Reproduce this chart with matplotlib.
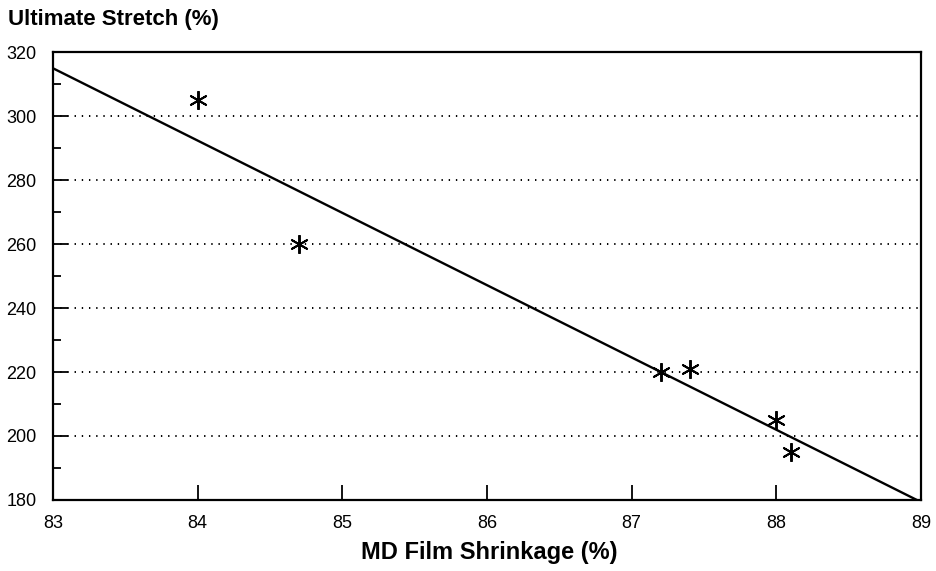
import numpy as np
import matplotlib
matplotlib.use("Agg")
import matplotlib.pyplot as plt
from matplotlib.ticker import MultipleLocator

# Data
shrinkage = [84.0, 84.7, 87.2, 87.4, 88.0, 88.1]
stretch = [305, 260, 220, 221, 205, 195]
x_ticks = [83, 84, 85, 86, 87, 88, 89]
y_ticks = [180, 200, 220, 240, 260, 280, 300, 320]
grid_levels = [200, 220, 240, 260, 280, 300]

plt.rcParams['font.family'] = ['Liberation Sans', 'DejaVu Sans']

fig = plt.figure(figsize=(9.36, 5.71), dpi=100)
ax = fig.add_axes([53/936, 1-500/571, (921-53)/936, (500-52)/571])

ax.set_xlim(83, 89)
ax.set_ylim(180, 320)

# regression line
slope, intercept = np.polyfit(shrinkage, stretch, 1)
xl = np.array([83, 89])
ax.plot(xl, slope*xl + intercept, color='black', lw=1.7, zorder=3)

ax.plot(shrinkage, stretch, linestyle='none', marker=(6, 2, 0), markersize=13.5,
        markeredgewidth=1.4, color='black', zorder=4)

for g in grid_levels:
    ax.axhline(g, color='black', lw=1.4, linestyle=(0, (0.7, 3.0)), zorder=1)

ax.set_xticks(x_ticks)
ax.set_yticks(y_ticks)
ax.yaxis.set_minor_locator(MultipleLocator(10))
ax.tick_params(axis='both', which='major', direction='in', length=11, width=1.3,
               labelsize=13, colors='black')
ax.tick_params(axis='x', which='major', pad=11)
ax.tick_params(axis='y', which='major', pad=12)
ax.tick_params(axis='y', which='minor', direction='in', length=6, width=1.3)
ax.tick_params(axis='x', which='minor', length=0)

for s in ax.spines.values():
    s.set_linewidth(1.6)

fig.text(8/936, 1-19/571, 'Ultimate Stretch (%)', fontsize=16, fontweight='bold',
         ha='left', va='center')
fig.text(489/936, 1-553/571, 'MD Film Shrinkage (%)', fontsize=17, fontweight='bold',
         ha='center', va='center')

fig.savefig('out.png', dpi=100)
